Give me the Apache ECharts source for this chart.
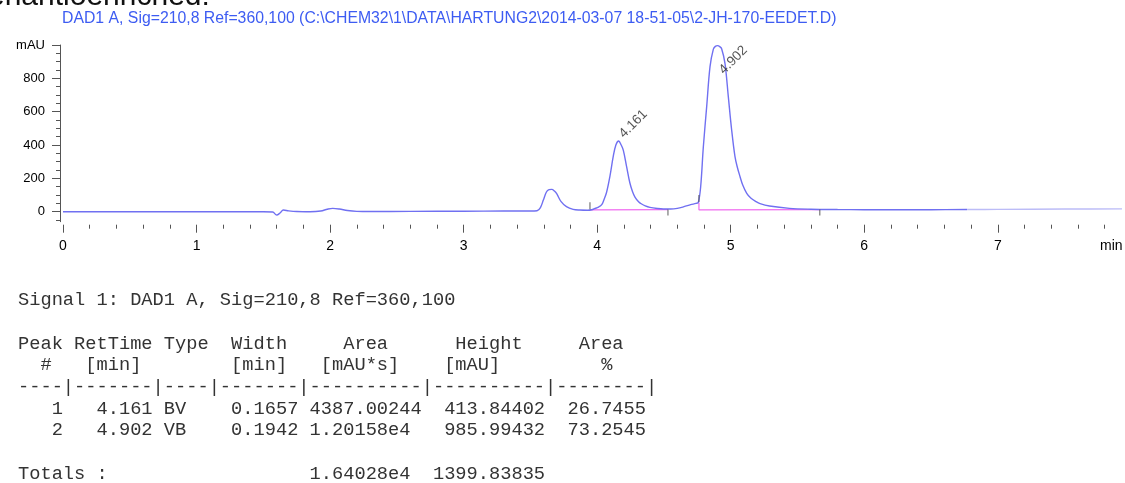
<!DOCTYPE html>
<html>
<head>
<meta charset="utf-8">
<title>DAD1 A chromatogram</title>
<script src="https://cdn.jsdelivr.net/npm/echarts@6/dist/echarts.min.js"></script>
<style>
  html, body { margin: 0; padding: 0; background: #ffffff; }
  #chart { width: 1125px; height: 483px; }
</style>
</head>
<body>
<div id="chart"></div>
<script>
// DAD1 A signal trace: retention time (min) and absorbance (mAU)
const timeMin = [
  0, 0.5, 1.0, 1.5, 1.57, 1.60, 1.625, 1.65, 1.69, 1.75, 1.85, 1.93, 1.98, 2.02, 2.07, 2.13, 2.2, 2.3,
  2.6, 3.0, 3.3, 3.5, 3.55, 3.575, 3.597, 3.62, 3.64, 3.66, 3.68, 3.697, 3.73, 3.77, 3.82, 3.87, 3.93,
  3.96, 3.98, 4.01, 4.034, 4.05, 4.07, 4.096, 4.12, 4.14, 4.161, 4.18, 4.196, 4.22, 4.245, 4.265, 4.283,
  4.31, 4.333, 4.36, 4.395, 4.45, 4.495, 4.55, 4.60, 4.65, 4.70, 4.74, 4.757, 4.775, 4.795, 4.82, 4.845,
  4.87, 4.885, 4.902, 4.918, 4.932, 4.957, 4.982, 5.007, 5.032, 5.05, 5.07, 5.09, 5.12, 5.15, 5.19, 5.22,
  5.29, 5.44, 5.6, 5.8, 6.0, 6.5, 6.77, 7.0, 7.5, 7.93
];
const absorbance = [
  0, 0, 0, 0, -2, -20, -8, 10, 5, 1, 0, 4, 15, 20, 16, 7, 2, 1,
  2, 3, 4, 4, 6, 25, 70, 118, 132, 134, 124, 108, 60, 30, 14, 10, 9,
  12, 18, 28, 42, 70, 115, 215, 330, 400, 424, 400, 368, 272, 172, 120, 88,
  60, 46, 35, 26, 19, 16, 16, 20, 30, 42, 50, 55, 150, 390, 630, 870,
  975, 992, 996, 990, 978, 890, 690, 490, 330, 265, 210, 160, 110, 82, 60, 48,
  34, 20, 15, 13, 12, 12, 13, 14, 16, 17
];
// the trace is drawn paler from this time onward
const fadeFromTime = 6.77;

// Integrated peaks: retention times and apex absorbance
const peakRetTimes = [4.161, 4.902];
const peakApex = [424, 996];

// Integration baselines (drop line + baseline for each peak)
const baseline1Time = [3.946, 4.53];
const baseline1Abs = [11, 13];
const baseline2Time = [4.762, 4.762, 5.667];
const baseline2Abs = [55, 11, 13];
const baselineStartTime = [3.946, 4.762];
const baselineStartAbs = [11, 55];
const baselineEndTime = [4.53, 5.667];
const baselineEndAbs = [13, 13];

// Axis ticks and labels
const xTickValues = [0, 1, 2, 3, 4, 5, 6, 7];
const yTickValues = [0, 200, 400, 600, 800, 1000];
const yTickLabels = ['0', '200', '400', '600', '800', 'mAU'];

const headerText = 'DAD1 A, Sig=210,8 Ref=360,100 (C:\\CHEM32\\1\\DATA\\HARTUNG2\\2014-03-07 18-51-05\\2-JH-170-EEDET.D)';
const reportLines = [
  'Signal 1: DAD1 A, Sig=210,8 Ref=360,100',
  '',
  'Peak RetTime Type  Width     Area      Height     Area',
  '  #   [min]        [min]   [mAU*s]    [mAU]         %',
  '----|-------|----|-------|----------|----------|--------|',
  '   1   4.161 BV    0.1657 4387.00244  413.84402  26.7455',
  '   2   4.902 VB    0.1942 1.20158e4   985.99432  73.2545',
  '',
  'Totals :                  1.64028e4  1399.83835'
];

// minor tick positions between the labelled ticks
const xMinorTicks = [];
for (let i = 1; i < 40; i++) { if (i % 5 !== 0) xMinorTicks.push(i / 5); }
const yMinorTicks = [];
for (let v = -50; v < 1000; v += 50) { if (v % 200 !== 0) yMinorTicks.push(v); }

const zip = (a, b) => a.map((x, i) => [x, b[i]]);
const trace = zip(timeMin, absorbance);
const traceMain = trace.filter((p) => p[0] <= fadeFromTime);
const traceTail = trace.filter((p) => p[0] >= fadeFromTime);

const SANS = '"Liberation Sans", Arial, sans-serif';
const MONO = '"Liberation Mono", "Courier New", monospace';
const X_MAX = 7.93;
const Y_MIN = -60;
const Y_MAX = 1000;
const TICK = { color: '#555', width: 1 };
// peak label placement, in the label's rotated frame
const peakLabelOffsets = [[5.5, 6], [-16, 29]];

const chart = echarts.init(document.getElementById('chart'), null, { renderer: 'canvas' });

const option = {
  backgroundColor: '#ffffff',
  animation: false,
  grid: { left: 63, right: 3, top: 45, height: 176.7, containLabel: false },
  xAxis: [
    {
      type: 'value', min: 0, max: X_MAX, position: 'bottom', offset: 3,
      axisLine: { show: false, onZero: false },
      axisTick: { show: true, customValues: xTickValues, length: 8, lineStyle: TICK },
      axisLabel: { show: true, customValues: xTickValues, margin: 14, fontSize: 14, fontFamily: SANS, color: '#000' },
      splitLine: { show: false }
    },
    {
      type: 'value', min: 0, max: X_MAX, position: 'bottom', offset: 3,
      axisLine: { show: false, onZero: false },
      axisTick: { show: true, customValues: xMinorTicks, length: 4, lineStyle: TICK },
      axisLabel: { show: false },
      splitLine: { show: false }
    }
  ],
  yAxis: [
    {
      type: 'value', min: Y_MIN, max: Y_MAX, position: 'left', offset: 3,
      axisLine: { show: true, onZero: false, lineStyle: TICK },
      axisTick: { show: true, customValues: yTickValues, length: 8, lineStyle: TICK },
      axisLabel: {
        show: true, customValues: yTickValues, margin: 15, fontSize: 13, fontFamily: SANS, color: '#000',
        formatter: (v) => yTickLabels[yTickValues.indexOf(v)]
      },
      splitLine: { show: false }
    },
    {
      type: 'value', min: Y_MIN, max: Y_MAX, position: 'left', offset: 3,
      axisLine: { show: false, onZero: false },
      axisTick: { show: true, customValues: yMinorTicks, length: 4, lineStyle: TICK },
      axisLabel: { show: false },
      splitLine: { show: false }
    }
  ],
  series: [
    {
      name: 'DAD1 A', type: 'line', data: traceMain,
      showSymbol: false, smooth: 0.35,
      lineStyle: { width: 1.4, color: '#7070f1' }, itemStyle: { color: '#7070f1' }, z: 4
    },
    {
      name: 'DAD1 A tail', type: 'line', data: traceTail,
      showSymbol: false, smooth: 0.3,
      lineStyle: { width: 1.4, color: '#bcbcf7' }, itemStyle: { color: '#bcbcf7' }, z: 4
    },
    {
      type: 'line', data: zip(baseline1Time, baseline1Abs), showSymbol: false,
      lineStyle: { color: '#f06cf0', width: 1.2 }, itemStyle: { color: '#f06cf0' }, z: 3
    },
    {
      type: 'line', data: zip(baseline2Time, baseline2Abs), showSymbol: false,
      lineStyle: { color: '#f06cf0', width: 1.2 }, itemStyle: { color: '#f06cf0' }, z: 3
    },
    {
      type: 'scatter', data: zip(baselineStartTime, baselineStartAbs),
      symbol: 'rect', symbolSize: [1.2, 7], symbolOffset: [0, -4],
      itemStyle: { color: '#555' }, z: 5, silent: true
    },
    {
      type: 'scatter', data: zip(baselineEndTime, baselineEndAbs),
      symbol: 'rect', symbolSize: [1.2, 6], symbolOffset: [0, 3],
      itemStyle: { color: '#555' }, z: 5, silent: true
    },
    {
      type: 'scatter', symbolSize: 1, z: 6, silent: true,
      itemStyle: { color: 'rgba(0,0,0,0)' },
      data: peakRetTimes.map((t, i) => ({
        value: [t, peakApex[i]],
        label: { offset: peakLabelOffsets[i] }
      })),
      label: {
        show: true, position: [0, 0], align: 'left', verticalAlign: 'bottom', rotate: 45,
        formatter: (p) => p.value[0].toFixed(3),
        fontSize: 13.5, fontFamily: SANS, color: '#2a2a2a'
      }
    }
  ],
  graphic: [
    {
      type: 'text', x: -12, y: -3, silent: true,
      style: { text: 'enantioenriched:', fill: '#111', font: '30px ' + SANS, verticalAlign: 'middle', align: 'left' }
    },
    {
      type: 'text', x: 62, y: 19, silent: true,
      style: { text: headerText, fill: '#3d5cf2', font: '15.8px ' + SANS, verticalAlign: 'middle', align: 'left' }
    },
    {
      type: 'text', x: 1100, y: 246, silent: true,
      style: { text: 'min', fill: '#000', font: '14px ' + SANS, verticalAlign: 'middle', align: 'left' }
    },
    {
      type: 'text', x: 18, y: 289.5, silent: true,
      style: { text: reportLines.join('\n'), fill: '#333', font: '18.7px ' + MONO, lineHeight: 21.7, verticalAlign: 'top', align: 'left' }
    }
  ]
};

chart.setOption(option);
</script>
</body>
</html>
